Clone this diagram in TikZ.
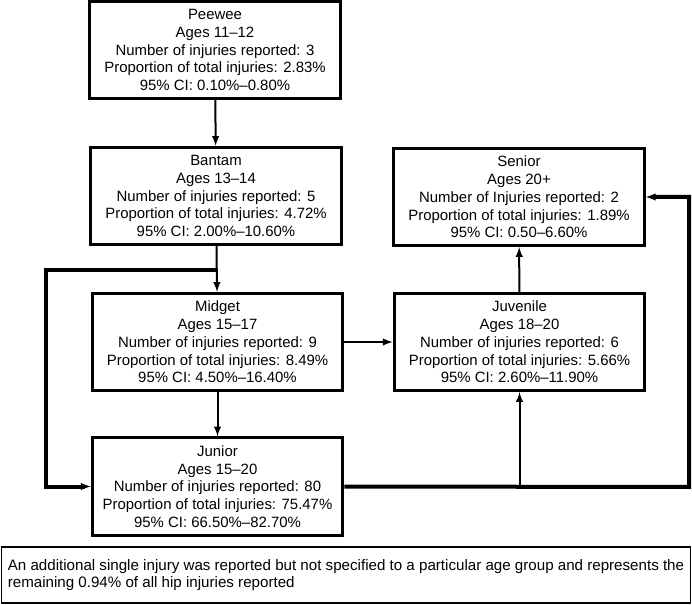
\documentclass[tikz,border=0pt]{standalone}
\usepackage{fontspec}
\setmainfont{Liberation Sans}
\usepackage{tikz}
\usetikzlibrary{positioning}

\tikzset{
	agebox/.style={draw, line width=2.25pt, minimum width=188pt, minimum height=73pt, inner sep=0pt, align=center, font=\fontsize{11.2}{13.3}\selectfont},
	notebox/.style={draw, line width=1.1pt, minimum width=517pt, minimum height=42pt, inner xsep=4pt, align=left, font=\fontsize{11.35}{13.3}\selectfont},
	link/.style={line width=1.5pt, -latex},
	bus/.style={line width=3pt}
}

\begin{document}
\begin{tikzpicture}[x=0.75pt,y=0.75pt,yscale=-1,xscale=1]
	\useasboundingbox (0,0) rectangle (692,605);
	
	% Text Node
	\node [agebox] (peewee) at (215,50) {Peewee\\Ages 11–12\\Number of injuries reported: 3\\Proportion of total injuries: 2.83\%\\95\% CI: 0.10\%–0.80\%};
	% Text Node
	\node [agebox] (bantam) at (216,196) {Bantam\\Ages 13–14\\Number of injuries reported: 5\\Proportion of total injuries: 4.72\%\\95\% CI: 2.00\%–10.60\%};
	% Text Node
	\node [agebox] (senior) at (519,197) {Senior\\Ages 20+\\Number of Injuries reported: 2\\Proportion of total injuries: 1.89\%\\95\% CI: 0.50–6.60\%};
	% Text Node
	\node [agebox] (midget) at (217.5,342) {Midget\\Ages 15–17\\Number of injuries reported: 9\\Proportion of total injuries: 8.49\%\\95\% CI: 4.50\%–16.40\%};
	% Text Node
	\node [agebox] (juvenile) at (519.5,342) {Juvenile\\Ages 18–20\\Number of injuries reported: 6\\Proportion of total injuries: 5.66\%\\95\% CI: 2.60\%–11.90\%};
	% Text Node
	\node [agebox] (junior) at (217.5,486.5) {Junior\\Ages 15–20\\Number of injuries reported: 80\\Proportion of total injuries: 75.47\%\\95\% CI: 66.50\%–82.70\%};
	% Text Node
	\node [notebox] (note) at (346,575) {An additional single injury was reported but not specified to a particular age group and represents the\\remaining 0.94\% of all hip injuries reported};
	
	%Straight Lines
	\coordinate (split) at (bantam.south |- 0,270);
	\coordinate (lbend) at (46,270);
	\coordinate (rbend) at (689,487);
	\draw [link] (peewee) -- (bantam);
	\draw [link] (bantam) -- (midget);
	\draw [link] (midget) -- (junior);
	\draw [link] (midget) -- (juvenile);
	\draw [link] (juvenile) -- (senior);
	%Thick Lines
	\draw [bus] (split) -- (lbend) -- (lbend |- junior.west) -- ([xshift=-4pt]junior.west);
	\draw [link] ([xshift=-5pt]junior.west) -- (junior.west);
	\draw [bus] (junior.east) -- (rbend) -- (rbend |- senior.east) -- ([xshift=4pt]senior.east);
	\draw [link] ([xshift=5pt]senior.east) -- (senior.east);
	\draw [link] (juvenile.south |- junior.east) -- (juvenile.south);
	
\end{tikzpicture}
\end{document}
